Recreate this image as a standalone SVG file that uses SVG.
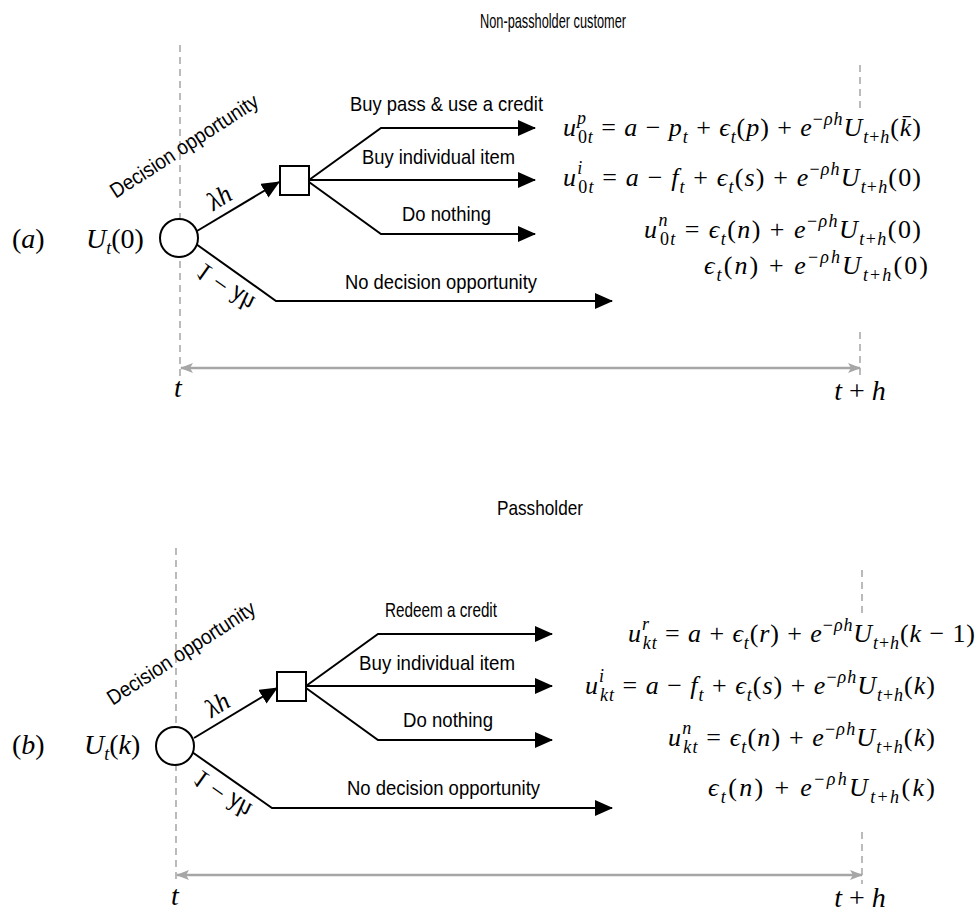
<svg xmlns="http://www.w3.org/2000/svg" width="978" height="915" viewBox="0 0 978 915">
<style>
.lbl{font-family:"Liberation Sans Narrow","Liberation Sans",Arial,sans-serif;font-size:21px;fill:#000}
.m{font-family:"Liberation Serif","DejaVu Serif",serif;font-size:26px;fill:#000}
.big{font-size:28px}
.i{font-style:italic}
.s{font-size:18px}
.ln{fill:none;stroke:#000;stroke-width:2}
.arr{marker-end:url(#ah)}
.dash{fill:none;stroke:#aaa;stroke-width:1.6;stroke-dasharray:7 5}
.time{fill:none;stroke:#a6a6a6;stroke-width:2.5;marker-start:url(#gh);marker-end:url(#gh)}
.node{fill:#fff;stroke:#000;stroke-width:2}
</style>
<defs>
<marker id="ah" viewBox="0 0 18 16" refX="17" refY="8" markerWidth="18" markerHeight="16" markerUnits="userSpaceOnUse" orient="auto"><path d="M0,0 L18,8 L0,16 z" fill="#000"/></marker>
<marker id="gh" viewBox="0 0 13 10" refX="12" refY="5" markerWidth="13" markerHeight="10" markerUnits="userSpaceOnUse" orient="auto-start-reverse"><path d="M0,0 L13,5 L0,10 L3,5 z" fill="#a6a6a6"/></marker>
</defs>
<rect width="978" height="915" fill="#fff"/>

<!-- ===== (a) Non-passholder ===== -->
<g id="guides-a">
<path class="dash" d="M180,45 V376"/>
<path class="dash" d="M860,65 V108 M860,332 V376"/>
<path class="time" d="M181,368 H860"/>
<text class="m i big" x="178" y="397" text-anchor="middle">t</text>
<text class="m big" x="860" y="400" text-anchor="middle"><tspan class="i">t</tspan> + <tspan class="i">h</tspan></text>
</g>
<text id="title-a" class="lbl" x="553" y="28" text-anchor="middle" font-size="22" textLength="146" lengthAdjust="spacingAndGlyphs">Non-passholder customer</text>
<text id="label-a" class="m big" x="12" y="248">(<tspan class="i">a</tspan>)</text>
<text id="value-a" class="m big" x="86" y="248"><tspan class="i">U</tspan><tspan class="s i" font-size="19" dy="6">t</tspan><tspan dy="-6">(0)</tspan></text>
<text class="lbl" font-size="22" transform="translate(188,152) rotate(-33)" text-anchor="middle" textLength="172" lengthAdjust="spacingAndGlyphs">Decision opportunity</text>

<g id="edges-a">
<path class="ln arr" d="M197,231 L279,182"/>
<path class="ln arr" d="M309,180 L381,128 H535"/>
<path class="ln arr" d="M309,180 H535"/>
<path class="ln arr" d="M309,182 L381,234 H535"/>
<path class="ln arr" d="M196,244 L276,301 H612"/>
<text class="m i" font-size="24" transform="translate(220,199) rotate(-32)" text-anchor="middle" y="7">λh</text>
<text class="m" font-size="22" transform="translate(226,286) rotate(35) scale(1,-1)" text-anchor="middle" y="7">1 − <tspan class="i">λh</tspan></text>
<text class="lbl" x="350" y="111" textLength="193" lengthAdjust="spacingAndGlyphs">Buy pass &amp; use a credit</text>
<text class="lbl" x="362" y="164" textLength="153" lengthAdjust="spacingAndGlyphs">Buy individual item</text>
<text class="lbl" x="402" y="221" textLength="89" lengthAdjust="spacingAndGlyphs">Do nothing</text>
<text class="lbl" x="345" y="289" textLength="192" lengthAdjust="spacingAndGlyphs">No decision opportunity</text>
</g>
<g id="chance-a"><circle class="node" cx="179" cy="238" r="19"/></g>
<g id="decision-a"><rect class="node" x="280" y="166" width="29" height="29"/></g>

<g id="payoffs-a">
<text class="m" x="921" y="136" text-anchor="end" textLength="358" lengthAdjust="spacing"><tspan class="i">u</tspan><tspan class="s i" dy="-12">p</tspan><tspan class="s" dx="-9" dy="19">0<tspan class="i">t</tspan></tspan><tspan dy="-7"> = <tspan class="i">a</tspan> − <tspan class="i">p</tspan></tspan><tspan class="s i" dy="7">t</tspan><tspan dy="-7"> + <tspan class="i">ϵ</tspan></tspan><tspan class="s i" dy="7">t</tspan><tspan dy="-7">(<tspan class="i">p</tspan>) + <tspan class="i">e</tspan></tspan><tspan class="s" dy="-11">−<tspan class="i">ρh</tspan></tspan><tspan class="i" dy="11">U</tspan><tspan class="s" dy="7"><tspan class="i">t</tspan>+<tspan class="i">h</tspan></tspan><tspan dy="-7">(<tspan class="i">k̄</tspan>)</tspan></text>
<text class="m" x="921" y="186" text-anchor="end" textLength="358" lengthAdjust="spacing"><tspan class="i">u</tspan><tspan class="s i" dy="-12">i</tspan><tspan class="s" dx="-5" dy="19">0<tspan class="i">t</tspan></tspan><tspan dy="-7"> = <tspan class="i">a</tspan> − <tspan class="i">f</tspan></tspan><tspan class="s i" dy="7">t</tspan><tspan dy="-7"> + <tspan class="i">ϵ</tspan></tspan><tspan class="s i" dy="7">t</tspan><tspan dy="-7">(<tspan class="i">s</tspan>) + <tspan class="i">e</tspan></tspan><tspan class="s" dy="-11">−<tspan class="i">ρh</tspan></tspan><tspan class="i" dy="11">U</tspan><tspan class="s" dy="7"><tspan class="i">t</tspan>+<tspan class="i">h</tspan></tspan><tspan dy="-7">(0)</tspan></text>
<text class="m" x="921" y="238" text-anchor="end" textLength="277" lengthAdjust="spacing"><tspan class="i">u</tspan><tspan class="s i" dy="-12">n</tspan><tspan class="s" dx="-9" dy="19">0<tspan class="i">t</tspan></tspan><tspan dy="-7"> = <tspan class="i">ϵ</tspan></tspan><tspan class="s i" dy="7">t</tspan><tspan dy="-7">(<tspan class="i">n</tspan>) + <tspan class="i">e</tspan></tspan><tspan class="s" dy="-11">−<tspan class="i">ρh</tspan></tspan><tspan class="i" dy="11">U</tspan><tspan class="s" dy="7"><tspan class="i">t</tspan>+<tspan class="i">h</tspan></tspan><tspan dy="-7">(0)</tspan></text>
<text class="m" x="928" y="274" text-anchor="end" textLength="224" lengthAdjust="spacing"><tspan class="i">ϵ</tspan><tspan class="s i" dy="7">t</tspan><tspan dy="-7">(<tspan class="i">n</tspan>) + <tspan class="i">e</tspan></tspan><tspan class="s" dy="-11">−<tspan class="i">ρh</tspan></tspan><tspan class="i" dy="11">U</tspan><tspan class="s" dy="7"><tspan class="i">t</tspan>+<tspan class="i">h</tspan></tspan><tspan dy="-7">(0)</tspan></text>
</g>

<!-- ===== (b) Passholder ===== -->
<g id="guides-b">
<path class="dash" d="M176,548 V884"/>
<path class="dash" d="M862,570 V613 M862,832 V884"/>
<path class="time" d="M177,875 H862"/>
<text class="m i big" x="175" y="905" text-anchor="middle">t</text>
<text class="m big" x="860" y="907" text-anchor="middle"><tspan class="i">t</tspan> + <tspan class="i">h</tspan></text>
</g>
<text id="title-b" class="lbl" x="540" y="515" text-anchor="middle" font-size="22" textLength="86" lengthAdjust="spacingAndGlyphs">Passholder</text>
<text id="label-b" class="m big" x="12" y="754">(<tspan class="i">b</tspan>)</text>
<text id="value-b" class="m big" x="84" y="754"><tspan class="i">U</tspan><tspan class="s i" font-size="19" dy="6">t</tspan><tspan dy="-6">(<tspan class="i">k</tspan>)</tspan></text>
<text class="lbl" font-size="22" transform="translate(185,659) rotate(-33)" text-anchor="middle" textLength="172" lengthAdjust="spacingAndGlyphs">Decision opportunity</text>

<g id="edges-b">
<path class="ln arr" d="M194,738 L277,688"/>
<path class="ln arr" d="M306,686 L378,634 H552"/>
<path class="ln arr" d="M306,686 H552"/>
<path class="ln arr" d="M306,688 L378,740 H552"/>
<path class="ln arr" d="M192,752 L272,808 H612"/>
<text class="m i" font-size="24" transform="translate(218,706) rotate(-32)" text-anchor="middle" y="7">λh</text>
<text class="m" font-size="22" transform="translate(223,793) rotate(35) scale(1,-1)" text-anchor="middle" y="7">1 − <tspan class="i">λh</tspan></text>
<text class="lbl" x="385" y="617" textLength="112" lengthAdjust="spacingAndGlyphs">Redeem a credit</text>
<text class="lbl" x="359" y="670" textLength="156" lengthAdjust="spacingAndGlyphs">Buy individual item</text>
<text class="lbl" x="403" y="727" textLength="90" lengthAdjust="spacingAndGlyphs">Do nothing</text>
<text class="lbl" x="347" y="795" textLength="193" lengthAdjust="spacingAndGlyphs">No decision opportunity</text>
</g>
<g id="chance-b"><circle class="node" cx="175" cy="746" r="19"/></g>
<g id="decision-b"><rect class="node" x="277" y="672" width="29" height="29"/></g>

<g id="payoffs-b">
<text class="m" x="975" y="642" text-anchor="end" textLength="347" lengthAdjust="spacing"><tspan class="i">u</tspan><tspan class="s i" dy="-12">r</tspan><tspan class="s i" dx="-7" dy="19">kt</tspan><tspan dy="-7"> = <tspan class="i">a</tspan> + <tspan class="i">ϵ</tspan></tspan><tspan class="s i" dy="7">t</tspan><tspan dy="-7">(<tspan class="i">r</tspan>) + <tspan class="i">e</tspan></tspan><tspan class="s" dy="-11">−<tspan class="i">ρh</tspan></tspan><tspan class="i" dy="11">U</tspan><tspan class="s" dy="7"><tspan class="i">t</tspan>+<tspan class="i">h</tspan></tspan><tspan dy="-7">(<tspan class="i">k</tspan> − 1)</tspan></text>
<text class="m" x="935" y="694" text-anchor="end" textLength="350" lengthAdjust="spacing"><tspan class="i">u</tspan><tspan class="s i" dy="-12">i</tspan><tspan class="s i" dx="-5" dy="19">kt</tspan><tspan dy="-7"> = <tspan class="i">a</tspan> − <tspan class="i">f</tspan></tspan><tspan class="s i" dy="7">t</tspan><tspan dy="-7"> + <tspan class="i">ϵ</tspan></tspan><tspan class="s i" dy="7">t</tspan><tspan dy="-7">(<tspan class="i">s</tspan>) + <tspan class="i">e</tspan></tspan><tspan class="s" dy="-11">−<tspan class="i">ρh</tspan></tspan><tspan class="i" dy="11">U</tspan><tspan class="s" dy="7"><tspan class="i">t</tspan>+<tspan class="i">h</tspan></tspan><tspan dy="-7">(<tspan class="i">k</tspan>)</tspan></text>
<text class="m" x="935" y="746" text-anchor="end" textLength="267" lengthAdjust="spacing"><tspan class="i">u</tspan><tspan class="s i" dy="-12">n</tspan><tspan class="s i" dx="-9" dy="19">kt</tspan><tspan dy="-7"> = <tspan class="i">ϵ</tspan></tspan><tspan class="s i" dy="7">t</tspan><tspan dy="-7">(<tspan class="i">n</tspan>) + <tspan class="i">e</tspan></tspan><tspan class="s" dy="-11">−<tspan class="i">ρh</tspan></tspan><tspan class="i" dy="11">U</tspan><tspan class="s" dy="7"><tspan class="i">t</tspan>+<tspan class="i">h</tspan></tspan><tspan dy="-7">(<tspan class="i">k</tspan>)</tspan></text>
<text class="m" x="935" y="796" text-anchor="end" textLength="227" lengthAdjust="spacing"><tspan class="i">ϵ</tspan><tspan class="s i" dy="7">t</tspan><tspan dy="-7">(<tspan class="i">n</tspan>) + <tspan class="i">e</tspan></tspan><tspan class="s" dy="-11">−<tspan class="i">ρh</tspan></tspan><tspan class="i" dy="11">U</tspan><tspan class="s" dy="7"><tspan class="i">t</tspan>+<tspan class="i">h</tspan></tspan><tspan dy="-7">(<tspan class="i">k</tspan>)</tspan></text>
</g>
</svg>
